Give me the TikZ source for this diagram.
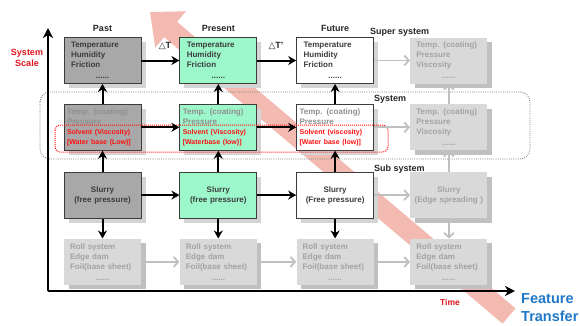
\documentclass[tikz,border=0pt]{standalone}
\usepackage{fontspec}
\setmainfont{Liberation Sans}
\newfontfamily\symfont{DejaVu Sans}
\usetikzlibrary{arrows.meta, positioning, shadows}

\definecolor{pastgrey}{HTML}{A8A8A8}
\definecolor{mint}{HTML}{9CF7CB}
\definecolor{boxline}{HTML}{3C3C3C}
\definecolor{boxshade}{HTML}{D4D4D4}
\definecolor{fadefill}{HTML}{D9D9D9}
\definecolor{fadetext}{HTML}{A3A3A3}
\definecolor{fadeshade}{HTML}{C0C0C0}
\definecolor{softtext}{HTML}{8F8F8F}
\definecolor{alertred}{HTML}{FF1010}
\definecolor{bandpink}{HTML}{F2BAB1}
\definecolor{ftblue}{HTML}{1F78C8}
\definecolor{scalered}{HTML}{E0141E}

\newcommand{\softln}[1]{\textcolor{softtext}{#1}}
\newcommand{\redln}[1]{{\fontsize{7}{10}\selectfont\textcolor{alertred}{#1}}}
\newcommand{\dotsln}{\hspace*{\fill}......\hspace*{\fill}}

\begin{document}
\begin{tikzpicture}[x=1pt, y=-1pt,
    box/.style={
        rectangle, draw=boxline, line width=0.8pt,
        minimum width=77pt, minimum height=46pt,
        text width=63pt, inner xsep=7pt, inner ysep=1pt,
        align=left, text=boxline,
        font=\fontsize{8}{10}\selectfont\bfseries
    },
    castshadow/.style={drop shadow={shadow xshift=4.5pt,
        shadow yshift=-4.5pt, fill=#1, opacity=1}},
    wide/.style={text width=71pt, inner xsep=3pt},
    mid/.style={text width=69pt, inner xsep=4pt, align=center},
    pastbox/.style={box, fill=pastgrey, castshadow=boxshade},
    nowbox/.style={box, fill=mint, castshadow=boxshade},
    futbox/.style={box, fill=white, castshadow=boxshade},
    fadebox/.style={box, draw=none, fill=fadefill, text=fadetext,
        castshadow=fadeshade},
    flow/.style={-{Stealth[length=8pt, width=9pt, inset=2.5pt]},
        line width=2pt, black},
    fadeflow/.style={-{Straight Barb[length=4.5pt, width=10pt]},
        line width=1.8pt, fadeshade},
    axis/.style={-{Stealth[length=10pt, width=10pt, inset=3pt]},
        line width=1.8pt},
    hdr/.style={font=\fontsize{9}{10}\selectfont\bfseries,
        text=black!85},
    tier/.style={hdr, anchor=west, inner sep=0pt}
]
\useasboundingbox (0,0) rectangle (580,325);

% feature transfer band, behind everything
\coordinate (bandtail) at (509,316);
\coordinate (bandtip) at (150,12);
\draw[line width=20pt, bandpink,
      -{Triangle[length=27pt, width=46pt]}] (bandtail) -- (bandtip);

% system frame
\draw[gray, line width=0.8pt, dash pattern=on 1pt off 1.2pt,
      rounded corners=10pt] (40,92) rectangle (530,159);

% super system row
\node[pastbox] (pastsup) at (102.5,60.5)
    {Temperature\\Humidity\\Friction\\[1pt]\dotsln};
\node[nowbox, right=38pt of pastsup] (nowsup)
    {Temperature\\Humidity\\Friction\\[1pt]\dotsln};
\node[futbox, right=39pt of nowsup] (futsup)
    {Temperature\\Humidity\\Friction\\[1pt]\dotsln};
\node[fadebox, text width=65pt, inner xsep=6pt, right=36pt of futsup]
    (nextsup) {Temp. (coating)\\Pressure\\Viscosity\\[1pt]\dotsln};

% system row
\node[pastbox, wide, below=20pt of pastsup] (pastsys)
    {\softln{Temp. (coating)}\\\softln{Pressure}\\
     \redln{Solvent (Viscosity)}\\\redln{[Water base (Low)]}};
\node[nowbox, wide, below=20pt of nowsup] (nowsys)
    {\softln{Temp. (coating)}\\\softln{Pressure}\\
     \redln{Solvent (Viscosity)}\\\redln{[Waterbase (low)]}};
\node[futbox, wide, below=20pt of futsup] (futsys)
    {\softln{Temp. (coating)}\\\softln{Pressure}\\
     \redln{Solvent (viscosity)}\\\redln{[Water base (low)]}};
\node[fadebox, text width=65pt, inner xsep=6pt, below=20pt of nextsup]
    (nextsys) {Temp. (coating)\\Pressure\\Viscosity\\[1pt]\dotsln};

% sub system row
\node[pastbox, mid, below=21pt of pastsys] (pastsub)
    {Slurry\\(free pressure)};
\node[nowbox, mid, below=21pt of nowsys] (nowsub)
    {Slurry\\(free pressure)};
\node[futbox, mid, below=21pt of futsys] (futsub)
    {Slurry\\(Free pressure)};
\node[fadebox, mid, below=21pt of nextsys] (nextsub)
    {Slurry\\(Edge spreading )};

% base row
\node[fadebox, text width=65pt, inner xsep=6pt, below=20pt of pastsub]
    (pastbase) {Roll system\\Edge dam\\Foil(base sheet)\\[1pt]\dotsln};
\node[fadebox, text width=65pt, inner xsep=6pt, below=20pt of nowsub]
    (nowbase) {Roll system\\Edge dam\\Foil(base sheet)\\[1pt]\dotsln};
\node[fadebox, text width=65pt, inner xsep=6pt, below=20pt of futsub]
    (futbase) {Roll system\\Edge dam\\Foil(base sheet)\\[1pt]\dotsln};
\node[fadebox, text width=65pt, inner xsep=6pt, below=20pt of nextsub]
    (nextbase) {Roll system\\Edge dam\\Foil(base sheet)\\[1pt]\dotsln};

% solvent frame
\draw[alertred, line width=1pt, dash pattern=on 1pt off 1pt,
      rounded corners=5pt] (55,125) rectangle (388,152);

% time direction
\draw[flow] (pastsup.east) -- (nowsup.west);
\draw[flow] (nowsup.east) -- (futsup.west);
\draw[fadeflow] (futsup.east) -- (nextsup.west);
\draw[flow] (pastsys.east) -- (nowsys.west);
\draw[flow] (nowsys.east) -- (futsys.west);
\draw[fadeflow] (futsys.east) -- (nextsys.west);
\draw[flow] (pastsub.east) -- (nowsub.west);
\draw[flow] (nowsub.east) -- (futsub.west);
\draw[fadeflow] (futsub.east) -- (nextsub.west);
\draw[fadeflow] (pastbase.east) -- (nowbase.west);
\draw[fadeflow] (nowbase.east) -- (futbase.west);
\draw[fadeflow] (futbase.east) -- (nextbase.west);

% scale direction
\draw[flow] (pastsys.north) -- (pastsup.south);
\draw[flow] (pastsub.north) -- (pastsys.south);
\draw[flow] (pastsub.south) -- (pastbase.north);
\draw[flow] (nowsys.north) -- (nowsup.south);
\draw[flow] (nowsub.north) -- (nowsys.south);
\draw[flow] (nowsub.south) -- (nowbase.north);
\draw[flow] (futsys.north) -- (futsup.south);
\draw[flow] (futsub.north) -- (futsys.south);
\draw[flow] (futsub.south) -- (futbase.north);
\draw[fadeflow] (nextsys.north) -- (nextsup.south);
\draw[fadeflow] (nextsub.north) -- (nextsys.south);
\draw[fadeflow] (nextsub.south) -- (nextbase.north);

% labels
\node[hdr, above=2pt of pastsup] (pastlbl) {Past};
\node[hdr, above=2pt of nowsup] (nowlbl) {Present};
\node[hdr, above=2pt of futsup] (futlbl) {Future};
\node[hdr] (dtlbl) at (165,46) {{\symfont △}T};
\node[hdr] (dtplbl) at (276,46) {{\symfont △}T'};
\node[tier] (suplbl) at (370,32) {Super system};
\node[tier] (syslbl) at (374,99) {System};
\node[tier] (sublbl) at (374,169) {Sub system};

% axes
\coordinate (origin) at (48,291);
\coordinate (scaletop) at (48,28);
\coordinate (timeend) at (515,291);
\draw[axis] (origin) -- (scaletop);
\draw[axis] (origin) -- (timeend);
\node[font=\fontsize{9}{11}\selectfont\bfseries, text=scalered,
      align=center] (scalelbl) at (27,58) {System\\Scale};
\node[font=\fontsize{8.5}{10}\selectfont\bfseries, text=scalered]
    (timelbl) at (450,302) {Time};
\node[font=\fontsize{14.5}{18}\selectfont\bfseries, text=ftblue,
      align=left, anchor=west, inner sep=0pt] (ftlbl) at (521,308)
    {Feature\\Transfer};
\end{tikzpicture}
\end{document}
